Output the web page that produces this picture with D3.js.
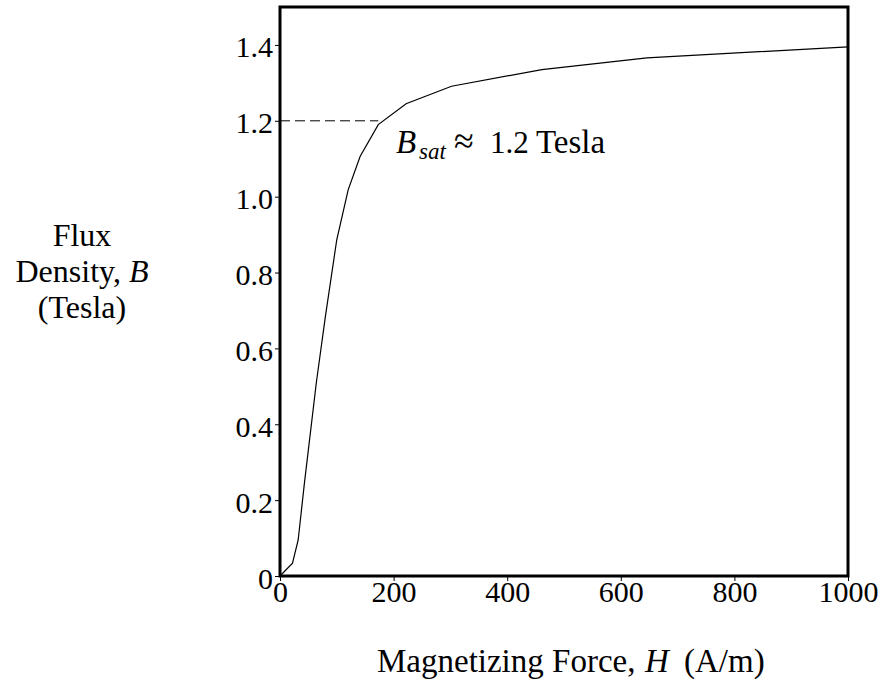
<!DOCTYPE html>
<html>
<head>
<meta charset="utf-8">
<script src="https://cdn.jsdelivr.net/npm/d3@7"></script>
<style>
  body { margin: 0; background: #fff; }
  svg { display: block; font-family: "Liberation Serif", "Times New Roman", serif; }
</style>
</head>
<body>
<div id="chart"></div>
<script>
// B-H magnetization curve
const fieldH = [0, 22, 32, 43, 64, 80, 100, 120, 141, 173, 222, 302, 461, 646, 1000];
const fluxB = [0, 0.034, 0.095, 0.245, 0.51, 0.685, 0.887, 1.018, 1.106, 1.19, 1.245, 1.291, 1.335, 1.366, 1.395];
const xTicks = [0, 200, 400, 600, 800, 1000];
const yTicks = [0, 0.2, 0.4, 0.6, 0.8, 1.0, 1.2, 1.4];
const bSat = 1.2;

const width = 884, height = 681;
const margin = { left: 280, right: 848, top: 7, bottom: 576 };
const serif = '"Liberation Serif", "Times New Roman", serif';

const x = d3.scaleLinear().domain([0, 1000]).range([margin.left, margin.right]);
const y = d3.scaleLinear().domain([0, 1.5]).range([margin.bottom, margin.top]);

const svg = d3.select("#chart").append("svg")
    .attr("width", width)
    .attr("height", height);

// axes
svg.append("g")
    .attr("transform", `translate(0,${margin.bottom})`)
    .call(d3.axisBottom(x).tickValues(xTicks).tickSize(5).tickPadding(0).tickFormat(d3.format("d")))
    .attr("font-family", serif).attr("font-size", 30)
    .call(g => g.select(".domain").remove())
    .call(g => g.selectAll("text").attr("fill", "#000"));

svg.append("g")
    .attr("transform", `translate(${margin.left},0)`)
    .call(d3.axisLeft(y).tickValues(yTicks).tickSize(5).tickPadding(2)
      .tickFormat(d => d === 0 ? "0" : d.toFixed(1)))
    .attr("font-family", serif).attr("font-size", 30)
    .call(g => g.select(".domain").remove())
    .call(g => g.selectAll("text").attr("dy", "0.4em").attr("fill", "#000"));

// frame
svg.append("rect")
    .attr("x", margin.left).attr("y", margin.top)
    .attr("width", margin.right - margin.left).attr("height", margin.bottom - margin.top)
    .attr("fill", "none").attr("stroke", "#000").attr("stroke-width", 3);

// dashed saturation marker
svg.append("line")
    .attr("x1", x(0)).attr("x2", x(173))
    .attr("y1", y(bSat)).attr("y2", y(bSat))
    .attr("stroke", "#000").attr("stroke-width", 1)
    .attr("stroke-dasharray", "10,5");

// curve
const line = d3.line().x((d, i) => x(fieldH[i])).y(d => y(d));
svg.append("path")
    .datum(fluxB)
    .attr("d", line)
    .attr("fill", "none")
    .attr("stroke", "#000")
    .attr("stroke-width", 1.2);

// annotation
const ann = svg.append("text")
    .attr("y", 153)
    .attr("font-size", 33);
ann.append("tspan").attr("x", 396).attr("font-style", "italic").text("B");
ann.append("tspan").attr("x", 419).attr("dy", 6).attr("font-style", "italic").attr("font-size", 23).text("sat");
ann.append("tspan").attr("x", 454).attr("dy", -6).attr("font-size", 36).text("\u2248");
ann.append("tspan").attr("x", 490).attr("font-size", 31).text("1.2");
ann.append("tspan").attr("x", 536).text("Tesla");

// axis titles
const xt = svg.append("text")
    .attr("y", 672)
    .attr("font-size", 33);
xt.append("tspan").attr("x", 377).text("Magnetizing Force,");
xt.append("tspan").attr("x", 645).attr("font-style", "italic").text("H");
xt.append("tspan").attr("x", 684).text("(A/m)");

const yt = svg.append("text")
    .attr("text-anchor", "middle")
    .attr("font-size", 32);
yt.append("tspan").attr("x", 82).attr("y", 246).text("Flux");
yt.append("tspan").attr("x", 82).attr("y", 282).text("Density, ")
  .append("tspan").attr("font-style", "italic").text("B");
yt.append("tspan").attr("x", 82).attr("y", 318).text("(Tesla)");
</script>
</body>
</html>
